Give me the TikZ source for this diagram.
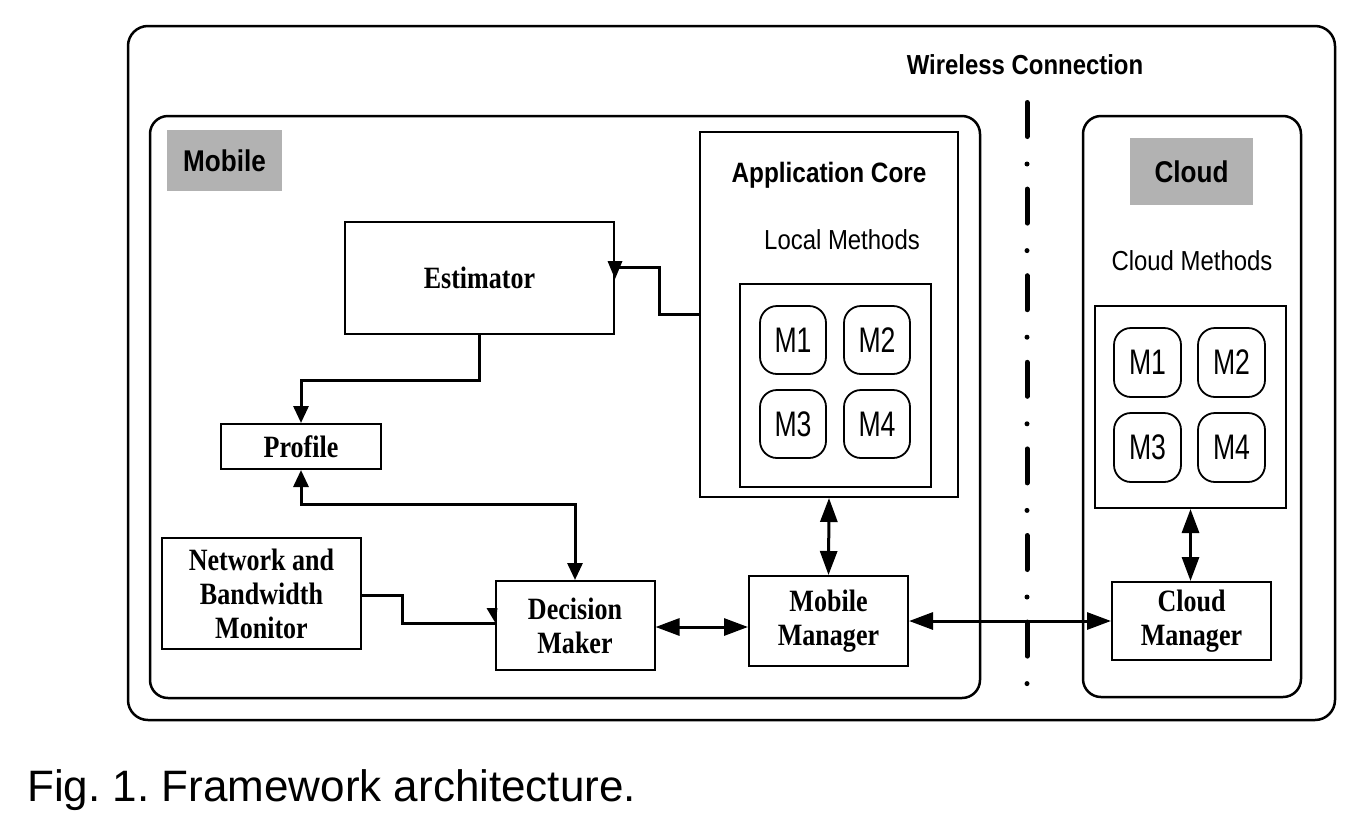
\documentclass[tikz,border=0pt]{standalone}
\usepackage{fontspec}
\usetikzlibrary{arrows.meta}
\setmainfont{Liberation Serif}[FakeStretch=0.84]
\newfontfamily\sansn[FakeStretch=0.87]{Liberation Sans}
\newfontfamily\sansm[FakeStretch=0.75]{Liberation Sans}
\newfontfamily\capfont{Liberation Sans}
\definecolor{labelgray}{RGB}{178,178,178}
\frenchspacing
\tikzset{
  box/.style={draw, line width=2pt, inner sep=0pt, align=center,
    font=\fontsize{31}{34}\selectfont\bfseries},
  rbox/.style={draw, line width=2.5pt, rounded corners=20pt, inner sep=0pt},
  mbox/.style={draw, line width=1.8pt, rounded corners=17pt, inner sep=0pt,
    minimum width=66pt, minimum height=68pt, font=\sansm\fontsize{35.5}{40}\selectfont},
  graylabel/.style={fill=labelgray, inner sep=0pt, font=\sansn\fontsize{30}{34}\selectfont\bfseries},
  sanstext/.style={inner sep=0pt, font=\sansn\fontsize{27.5}{32}\selectfont},
  conn/.style={line width=3pt},
  arr/.style={conn, {Triangle[length=24pt,width=17pt]}-{Triangle[length=24pt,width=17pt]}},
  arrs/.style={conn, {Triangle[length=17pt,width=15pt]}-{Triangle[length=17pt,width=15pt]}},
  arrone/.style={conn, -{Triangle[length=17pt,width=15pt]}},
}
\begin{document}
\begin{tikzpicture}[x=1pt,y=-1pt]
\useasboundingbox (0,0) rectangle (1368,836);
% containers
\node[rbox, minimum width=1207pt, minimum height=694pt] (outer) at (731.5,373) {};
\node[rbox, minimum width=830pt, minimum height=582pt, rounded corners=18pt] (mobile) at (565,407) {};
\node[rbox, minimum width=218pt, minimum height=581pt, rounded corners=18pt] (cloud) at (1192,406.5) {};
\node[graylabel, minimum width=115pt, minimum height=61pt] (mobilelbl) at (224.5,160.5) {Mobile};
\node[graylabel, minimum width=123pt, minimum height=67pt] (cloudlbl) at (1191.5,171.5) {Cloud};
\node[sanstext, font=\sansn\fontsize{27.5}{32}\selectfont\bfseries] (wireless) at (1025,65) {Wireless Connection};
% application core
\node[box, minimum width=258pt, minimum height=365pt] (appcore) at (829,314.5) {};
\node[sanstext, font=\sansn\fontsize{28}{32}\selectfont\bfseries] (appcorelbl) at (829,175) {Application Core};
\node[sanstext] (locallbl) at (842,240) {Local Methods};
\node[box, minimum width=191pt, minimum height=203pt] (localbox) at (835.5,385.5) {};
\node[mbox] (lm1) at (793,340) {M1};
\node[mbox] (lm2) at (877,340) {M2};
\node[mbox] (lm3) at (793,424) {M3};
\node[mbox] (lm4) at (877,424) {M4};
% cloud methods
\node[sanstext] (cloudlbl2) at (1192,261) {Cloud Methods};
\node[box, minimum width=191pt, minimum height=202pt] (cloudbox) at (1190.5,407) {};
\node[mbox, minimum width=67pt, minimum height=69pt] (cm1) at (1147.5,362.5) {M1};
\node[mbox, minimum width=67pt, minimum height=69pt] (cm2) at (1231.5,362.5) {M2};
\node[mbox, minimum width=67pt, minimum height=69pt] (cm3) at (1147.5,447.5) {M3};
\node[mbox, minimum width=67pt, minimum height=69pt] (cm4) at (1231.5,447.5) {M4};
% mobile boxes
\node[box, minimum width=269pt, minimum height=112pt] (est) at (479.5,278) {Estimator};
\node[box, minimum width=160pt, minimum height=45pt] (profile) at (301,446.5) {Profile};
\node[box, minimum width=199pt, minimum height=111pt] (nbm) at (261.5,593.5) {Network and\\Bandwidth\\Monitor};
\node[box, minimum width=159pt, minimum height=89pt] (dm) at (575,625.5) {Decision\\Maker};
\node[box, minimum width=159pt, minimum height=90pt] (mm) at (828.5,621) {Mobile\\Manager};
\node[box, minimum width=159pt, minimum height=78pt] (cmgr) at (1191.5,621) {Cloud\\Manager};
% connectors
\coordinate (ein) at (est.east |- 0,267);
\draw[conn] (appcore.west) -- ++(-40,0) |- (ein);
\fill (ein) ++(-7.5,-6) -- ++(15,0) -- ++(-7.5,18) -- cycle;
\draw[arrone] (est.south) -- ++(0,45) -| (profile.north);
\draw[arrs] (profile.south) -- ++(0,34) -| (dm.north);
\coordinate (din) at (dm.west |- 0,623);
\draw[conn] (nbm.east |- 0,595) -- ++(40,0) |- (din);
\fill (din) ++(-8,-15) -- ++(11,0) -- ++(-2,15) -- cycle;
\draw[arr] (dm.east |- 0,627) -- (mm.west |- 0,627);
\draw[arr] (appcore.south) -- (mm.north);
\draw[arr] (mm.east) -- (cmgr.west);
\draw[arr] (cloudbox.south) -- (cloudbox.south |- cmgr.north);
% wireless separator
\coordinate (sepTop) at (1027,102.5);
\coordinate (sepBot) at (1027,684);
\draw[line width=5pt, line cap=round, dash pattern=on 34pt off 27.5pt on 0pt off 25.1pt] (sepTop) -- (sepBot);
% caption
\node[anchor=base west, inner sep=0pt, font=\capfont\fontsize{44}{50}\selectfont] (caption) at (27,801) {Fig. 1. Framework architecture.};
\end{tikzpicture}
\end{document}
